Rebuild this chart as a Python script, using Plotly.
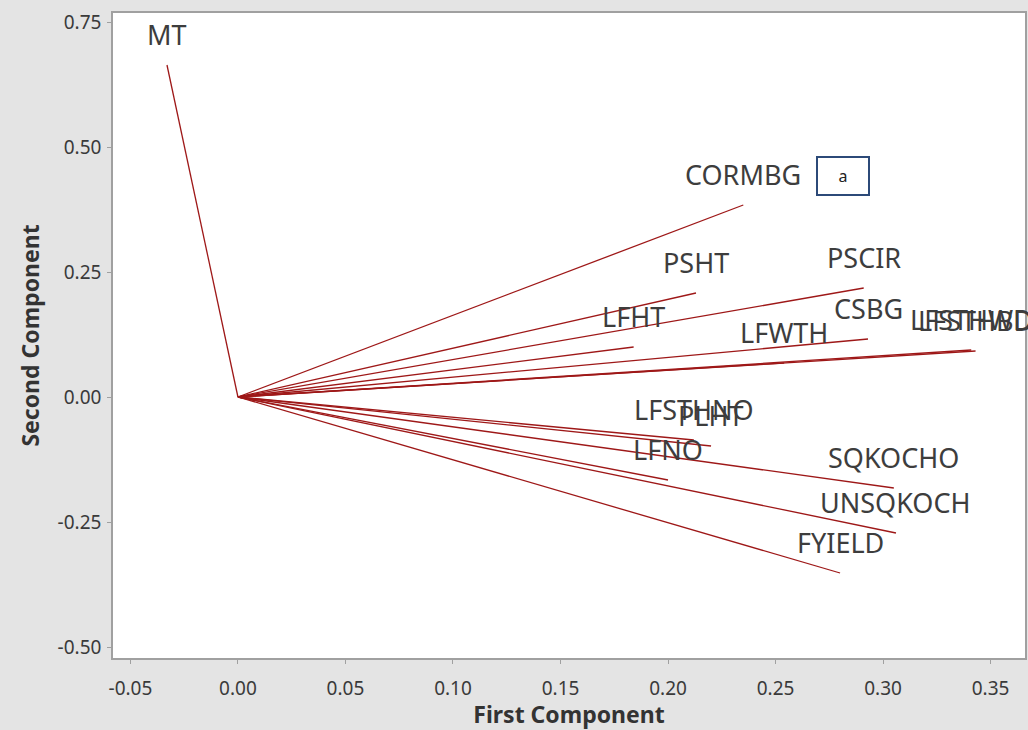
import plotly.graph_objects as go

# Loading vectors: first and second principal component per variable
variables = ["MT", "CORMBG", "PSHT", "PSCIR", "LFHT", "CSBG", "LFWTH",
             "LFSTHBD", "LFSTHWD", "LFSTHNO", "PLHT", "LFNO",
             "SQKOCHO", "UNSQKOCH", "FYIELD"]
pc1 = [-0.033, 0.235, 0.213, 0.291, 0.184, 0.293, 0.254,
       0.343, 0.341, 0.212, 0.220, 0.200,
       0.305, 0.306, 0.280]
pc2 = [0.664, 0.384, 0.208, 0.218, 0.100, 0.116, 0.068,
       0.092, 0.094, -0.086, -0.098, -0.166,
       -0.182, -0.272, -0.352]

x_ticks = [-0.05, 0.00, 0.05, 0.10, 0.15, 0.20, 0.25, 0.30, 0.35]
y_ticks = [-0.50, -0.25, 0.00, 0.25, 0.50, 0.75]

line_color = "#9e1818"
label_color = "#3d3d3d"
axis_color = "#a0a0a0"

fig = go.Figure()

for name, a, b in zip(variables, pc1, pc2):
    fig.add_trace(go.Scatter(
        x=[0, a], y=[0, b], mode="lines",
        line=dict(color=line_color, width=1.3),
        name=name, showlegend=False, hoverinfo="skip",
    ))
    fig.add_annotation(
        x=a, y=b, text=name, showarrow=False,
        xanchor="center", yanchor="middle", yshift=31,
        font=dict(family="Noto Sans", size=27, color=label_color),
    )

# Panel tag
fig.add_annotation(
    x=0.2815, y=0.442, text="a", showarrow=False,
    xanchor="center", yanchor="middle",
    width=48, height=34, bordercolor="#2c4a78", borderwidth=2,
    bgcolor="white",
    font=dict(family="Noto Sans", size=16, color="#222222"),
)

axis_common = dict(
    showline=True, mirror=True, linecolor=axis_color, linewidth=1.5,
    ticks="outside", ticklen=4, tickcolor=axis_color, tickwidth=1,
    showgrid=False, zeroline=False,
    tickfont=dict(family="Noto Sans", size=19, color="#3a3a3a"),
    automargin=False,
)

fig.update_xaxes(
    range=[-0.0581, 0.366], tickvals=x_ticks,
    ticktext=[f"{v:.2f}" for v in x_ticks],
    ticklabelstandoff=8,
    title=dict(text="First Component", standoff=12,
               font=dict(family="Noto Sans", size=23, color="#333333",
                         weight="bold")),
    **axis_common,
)
fig.update_yaxes(
    range=[-0.522, 0.768], tickvals=y_ticks,
    ticktext=[f"{v:.2f}" for v in y_ticks],
    ticklabelstandoff=2,
    title=dict(text="Second Component", standoff=12,
               font=dict(family="Noto Sans", size=23, color="#333333",
                         weight="bold")),
    **axis_common,
)

fig.update_layout(
    width=1028, height=730,
    margin=dict(l=113, r=3, t=13, b=72),
    paper_bgcolor="#e4e4e4", plot_bgcolor="white",
    showlegend=False,
)

fig.write_html("out.html")
